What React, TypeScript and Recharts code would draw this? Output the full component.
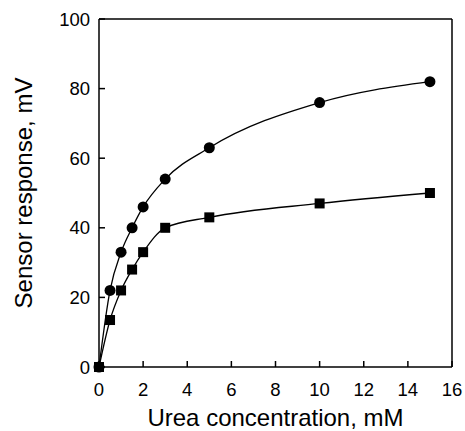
import React from 'react';
import { LineChart, Line, XAxis, YAxis, ReferenceLine, Label } from 'recharts';

const concentration = [0, 0.5, 1, 1.5, 2, 3, 5, 10, 15];
const circleSeries = [0, 22, 33, 40, 46, 54, 63, 76, 82];
const squareSeries = [0, 13.5, 22, 28, 33, 40, 43, 47, 50];
const xTicks = [0, 2, 4, 6, 8, 10, 12, 14, 16];
const yTicks = [0, 20, 40, 60, 80, 100];

const data = concentration.map((c, i) => ({ c, circle: circleSeries[i], square: squareSeries[i] }));

const font = '"Liberation Sans", Arial, Helvetica, sans-serif';

const CircleDot = (props: any) => {
  const { cx, cy } = props;
  if (cx == null || cy == null) return null;
  return <circle cx={cx} cy={cy} r={5.5} fill="#000" />;
};

const SquareDot = (props: any) => {
  const { cx, cy } = props;
  if (cx == null || cy == null) return null;
  return <rect x={cx - 5} y={cy - 5} width={10} height={10} fill="#000" />;
};

const App: React.FC = () => {
  return (
    <div style={{ position: 'absolute', left: 0, top: 0, background: '#fff' }}>
      <LineChart width={465} height={431} data={data} margin={{ top: 19, right: 13, left: 0, bottom: 0 }}>
        <XAxis
          dataKey="c"
          type="number"
          domain={[0, 16]}
          ticks={xTicks}
          height={64}
          stroke="#000"
          strokeWidth={1.5}
          tickSize={-6}
          tickMargin={22}
          tick={{ fill: '#000', fontSize: 18.5, fontFamily: font }}
        >
          <Label
            value="Urea concentration, mM"
            position="insideBottom"
            offset={5}
            style={{ fill: '#000', fontSize: 24, fontFamily: font }}
          />
        </XAxis>
        <YAxis
          type="number"
          domain={[0, 100]}
          ticks={yTicks}
          width={99}
          stroke="#000"
          strokeWidth={1.5}
          tickSize={-6}
          tickMargin={15}
          tick={{ fill: '#000', fontSize: 18.5, fontFamily: font }}
        >
          <Label
            value="Sensor response, mV"
            angle={-90}
            position="insideLeft"
            offset={23}
            style={{ fill: '#000', fontSize: 24, fontFamily: font, textAnchor: 'middle' }}
          />
        </YAxis>
        <ReferenceLine y={100} stroke="#000" strokeWidth={1.5} />
        <ReferenceLine x={16} stroke="#000" strokeWidth={1.5} />
        <Line
          type="monotone"
          dataKey="circle"
          stroke="#000"
          strokeWidth={1.3}
          dot={<CircleDot />}
          activeDot={false}
          isAnimationActive={false}
        />
        <Line
          type="monotone"
          dataKey="square"
          stroke="#000"
          strokeWidth={1.3}
          dot={<SquareDot />}
          activeDot={false}
          isAnimationActive={false}
        />
      </LineChart>
    </div>
  );
};

export default App;
